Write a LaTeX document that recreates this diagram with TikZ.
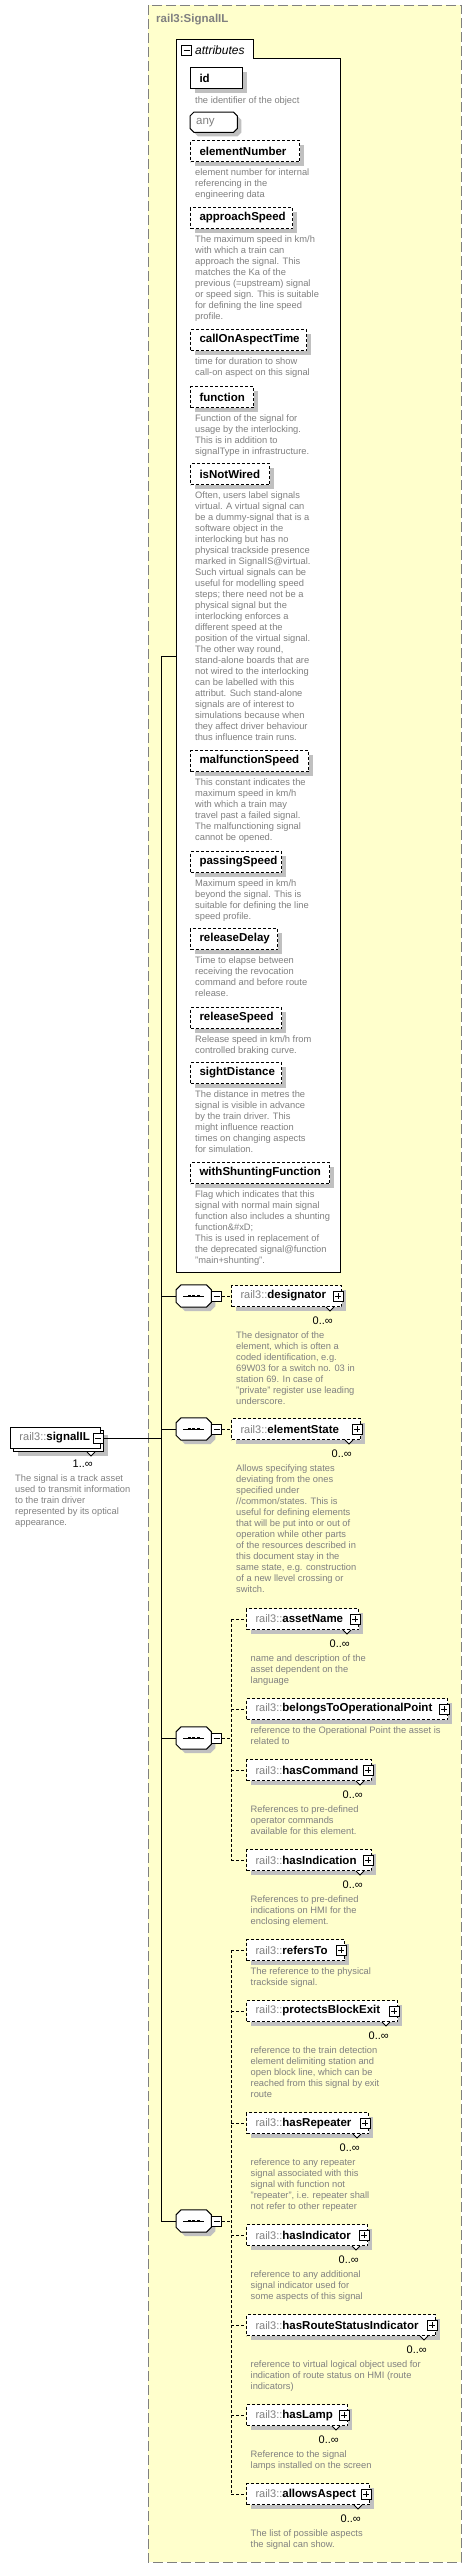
\documentclass[tikz,border=0pt]{standalone}
\usepackage{fontspec}
\setmainfont{Liberation Sans}
\usetikzlibrary{shadows,positioning}
\definecolor{cmplx}{RGB}{255,255,204}
\definecolor{txtgray}{RGB}{128,128,128}
\definecolor{shadowgray}{RGB}{192,192,192}
\newcommand{\attrname}[2]{\makebox[#1pt][l]{\hspace{9pt}#2}}
\newcommand{\elname}[2]{\makebox[#1pt][l]{\hspace{9pt}{\mdseries\color{txtgray}\fontsize{11}{13}\selectfont rail3::}#2}}
\tikzset{
  outer/.style={draw=txtgray, dash pattern=on 10pt off 4pt, fill=cmplx, line width=1pt},
  boxshadow/.style={drop shadow={shadow xshift=4pt, shadow yshift=-4pt, fill=shadowgray, opacity=1}},
  title/.style={inner sep=0, text=txtgray, font=\fontsize{11.5}{13}\selectfont\bfseries},
  opt/.style={dash pattern=on 3pt off 2pt},
  attr/.style={draw, fill=white, line width=1pt, inner sep=0, minimum height=21pt, anchor=north west,
    font=\fontsize{11.5}{13}\selectfont\bfseries, boxshadow},
  elem/.style={attr, opt, anchor=west},
  anybox/.style={inner sep=0, minimum height=20pt, anchor=north west, font=\fontsize{11.5}{13}\selectfont},
  seq/.style={inner sep=0, minimum width=35pt, minimum height=22pt, anchor=west},
  octo/.style={draw, fill=white, line width=1pt, boxshadow},
  minusbox/.style={draw, fill=white, line width=0.8pt, minimum width=10pt, minimum height=10pt, inner sep=0,
    path picture={\draw ([xshift=2pt]path picture bounding box.west) -- ([xshift=-2pt]path picture bounding box.east);}},
  plusbox/.style={minusbox,
    path picture={\draw ([xshift=2pt]path picture bounding box.west) -- ([xshift=-2pt]path picture bounding box.east)
      ([yshift=-2pt]path picture bounding box.north) -- ([yshift=2pt]path picture bounding box.south);}},
  sigbox/.style={draw, fill=white, line width=1pt, inner sep=0, minimum width=90pt, minimum height=21pt, anchor=north west},
  desc/.style={inner sep=0, align=left, text=txtgray, font=\fontsize{9.33}{11}\selectfont, execute at begin node=\strut},
  card/.style={inner sep=0, anchor=east, font=\fontsize{11}{13}\selectfont},
  notch/.style={fill=white, line width=0.8pt},
  wire/.style={line width=1pt},
  link/.style={line width=1pt, opt},
}
\begin{document}
\begin{tikzpicture}[x=1pt,y=-1pt]
\useasboundingbox (0,0) rectangle (471,2567);
% complex type frame
\draw[outer] (148,5) rectangle (461,2562);
\node[title, anchor=west] (ctype) at (156,20) {rail3:SignalIL};

% attributes
\draw[fill=white, line width=1pt] (176,39) -- (253,39) -- (253,58) -- (340,58) -- (340,1272) -- (176,1272) -- cycle;
\node[minusbox] (attrM) at (186.5,50) {};
\node[anchor=west, inner sep=0, font=\fontsize{12}{14}\selectfont\itshape] (attrT) at (195,50) {attributes};
\coordinate (attrL) at (176,656);

\node[attr] (id) at (190,67) {\attrname{52}{id}};
\node[desc, below right=6.2pt and 5pt of id.south west] (idD) {the identifier of the object};
\node[anybox] (any) at (190,112) {\attrname{47}{\color{txtgray}\hspace{-3pt}any}};
\draw[octo] ([xshift=4pt]any.north west) -- ([xshift=-4pt]any.north east) -- ([yshift=-4pt]any.north east)
  -- ([yshift=4pt]any.south east) -- ([xshift=-4pt]any.south east) -- ([xshift=4pt]any.south west)
  -- ([yshift=4pt]any.south west) -- ([yshift=-4pt]any.north west) -- cycle;
\node[anybox] at (any.north west) {\attrname{47}{\color{txtgray}\hspace{-3pt}any}};
\node[attr,opt] (elementNumber) at (190,140) {\attrname{109}{elementNumber}};
\node[desc, below right=6.2pt and 5pt of elementNumber.south west] (elementNumberD) {element number for internal\\referencing in the\\engineering data};
\node[attr,opt] (approachSpeed) at (190,207) {\attrname{102}{approachSpeed}};
\node[desc, below right=6.2pt and 5pt of approachSpeed.south west] (approachSpeedD) {The maximum speed in km/h\\with which a train can\\approach the signal. This\\matches the Ka of the\\previous (=upstream) signal\\or speed sign. This is suitable\\for defining the line speed\\profile.};
\node[attr,opt] (callOnAspectTime) at (190,329) {\attrname{116}{callOnAspectTime}};
\node[desc, below right=6.2pt and 5pt of callOnAspectTime.south west] (callOnAspectTimeD) {time for duration to show\\call-on aspect on this signal};
\node[attr,opt] (function) at (190,386) {\attrname{63}{function}};
\node[desc, below right=6.2pt and 5pt of function.south west] (functionD) {Function of the signal for\\usage by the interlocking.\\This is in addition to\\signalType in infrastructure.};
\node[attr,opt] (isNotWired) at (190,463) {\attrname{79}{isNotWired}};
\node[desc, below right=6.2pt and 5pt of isNotWired.south west] (isNotWiredD) {Often, users label signals\\virtual. A virtual signal can\\be a dummy-signal that is a\\software object in the\\interlocking but has no\\physical trackside presence\\marked in SignalIS@virtual.\\Such virtual signals can be\\useful for modelling speed\\steps; there need not be a\\physical signal but the\\interlocking enforces a\\different speed at the\\position of the virtual signal.\\The other way round,\\stand-alone boards that are\\not wired to the interlocking\\can be labelled with this\\attribut. Such stand-alone\\signals are of interest to\\simulations because when\\they affect driver behaviour\\thus influence train runs.};
\node[attr,opt] (malfunctionSpeed) at (190,750) {\attrname{118}{malfunctionSpeed}};
\node[desc, below right=6.2pt and 5pt of malfunctionSpeed.south west] (malfunctionSpeedD) {This constant indicates the\\maximum speed in km/h\\with which a train may\\travel past a failed signal.\\The malfunctioning signal\\cannot be opened.};
\node[attr,opt] (passingSpeed) at (190,851) {\attrname{91}{passingSpeed}};
\node[desc, below right=6.2pt and 5pt of passingSpeed.south west] (passingSpeedD) {Maximum speed in km/h\\beyond the signal. This is\\suitable for defining the line\\speed profile.};
\node[attr,opt] (releaseDelay) at (190,928) {\attrname{87}{releaseDelay}};
\node[desc, below right=6.2pt and 5pt of releaseDelay.south west] (releaseDelayD) {Time to elapse between\\receiving the revocation\\command and before route\\release.};
\node[attr,opt] (releaseSpeed) at (190,1007) {\attrname{91}{releaseSpeed}};
\node[desc, below right=6.2pt and 5pt of releaseSpeed.south west] (releaseSpeedD) {Release speed in km/h from\\controlled braking curve.};
\node[attr,opt] (sightDistance) at (190,1062) {\attrname{91}{sightDistance}};
\node[desc, below right=6.2pt and 5pt of sightDistance.south west] (sightDistanceD) {The distance in metres the\\signal is visible in advance\\by the train driver. This\\might influence reaction\\times on changing aspects\\for simulation.};
\node[attr,opt] (withShuntingFunction) at (190,1162) {\attrname{139}{withShuntingFunction}};
\node[desc, below right=6.2pt and 5pt of withShuntingFunction.south west] (withShuntingFunctionD) {Flag which indicates that this\\signal with normal main signal\\function also includes a shunting\\function\&\#xD;\\This is used in replacement of\\the deprecated signal@function\\"main+shunting".};

% compositors
\node[seq] (seqA) at (176,1296) {};
\node[seq] (seqB) at (176,1429) {};
\node[seq] (seqC) at (176,1738) {};
\node[seq] (seqD) at (176,2221) {};
\foreach \s in {seqA,seqB,seqC,seqD} {
  \draw[octo] ([xshift=5pt]\s.north west) -- ([xshift=-5pt]\s.north east) -- ([yshift=-5pt]\s.north east)
    -- ([yshift=5pt]\s.south east) -- ([xshift=-5pt]\s.south east) -- ([xshift=5pt]\s.south west)
    -- ([yshift=5pt]\s.south west) -- ([yshift=-5pt]\s.north west) -- cycle;
  \draw ([xshift=-10.5pt]\s.center) -- ([xshift=10.5pt]\s.center);
  \foreach \dx in {-4.5,0,4.5}
    \fill ([xshift=\dx pt]\s.center) +(-1.4pt,-1.4pt) rectangle +(1.4pt,1.4pt);
  \node[minusbox, anchor=west] (\s m) at (\s.east) {};
}

% child elements
\node[elem] (designator) at (231,1296) {\elname{110}{designator}};
\node[desc, below right=24.2pt and 5pt of designator.south west] (designatorD) {The designator of the\\element, which is often a\\coded identification, e.g.\\69W03 for a switch no. 03 in\\station 69. In case of\\"private" register use leading\\underscore.};
\node[elem] (elementState) at (231,1429) {\elname{129}{elementState}};
\node[desc, below right=24.2pt and 5pt of elementState.south west] (elementStateD) {Allows specifying states\\deviating from the ones\\specified under\\//common/states. This is\\useful for defining elements\\that will be put into or out of\\operation while other parts\\of the resources described in\\this document stay in the\\same state, e.g. construction\\of a new llevel crossing or\\switch.};
\node[elem] (assetName) at (246,1619) {\elname{112}{assetName}};
\node[desc, below right=24.2pt and 4.5pt of assetName.south west] (assetNameD) {name and description of the\\asset dependent on the\\language};
\node[elem] (belongsToOperationalPoint) at (246,1709) {\elname{201}{belongsToOperationalPoint}};
\node[desc, below right=6.2pt and 4.5pt of belongsToOperationalPoint.south west] (belongsToOperationalPointD) {reference to the Operational Point the asset is\\related to};
\node[elem] (hasCommand) at (246,1770) {\elname{125}{hasCommand}};
\node[desc, below right=24.2pt and 4.5pt of hasCommand.south west] (hasCommandD) {References to pre-defined\\operator commands\\available for this element.};
\node[elem] (hasIndication) at (246,1860) {\elname{125}{hasIndication}};
\node[desc, below right=24.2pt and 4.5pt of hasIndication.south west] (hasIndicationD) {References to pre-defined\\indications on HMI for the\\enclosing element.};
\node[elem] (refersTo) at (246,1950) {\elname{98}{refersTo}};
\node[desc, below right=6.2pt and 4.5pt of refersTo.south west] (refersToD) {The reference to the physical\\trackside signal.};
\node[elem] (protectsBlockExit) at (246,2011) {\elname{151}{protectsBlockExit}};
\node[desc, below right=24.2pt and 4.5pt of protectsBlockExit.south west] (protectsBlockExitD) {reference to the train detection\\element delimiting station and\\open block line, which can be\\reached from this signal by exit\\route};
\node[elem] (hasRepeater) at (246,2123) {\elname{122}{hasRepeater}};
\node[desc, below right=24.2pt and 4.5pt of hasRepeater.south west] (hasRepeaterD) {reference to any repeater\\signal associated with this\\signal with function not\\"repeater", i.e. repeater shall\\not refer to other repeater};
\node[elem] (hasIndicator) at (246,2235) {\elname{121}{hasIndicator}};
\node[desc, below right=24.2pt and 4.5pt of hasIndicator.south west] (hasIndicatorD) {reference to any additional\\signal indicator used for\\some aspects of this signal};
\node[elem] (hasRouteStatusIndicator) at (246,2325) {\elname{189}{hasRouteStatusIndicator}};
\node[desc, below right=24.2pt and 4.5pt of hasRouteStatusIndicator.south west] (hasRouteStatusIndicatorD) {reference to virtual logical object used for\\indication of route status on HMI (route\\indicators)};
\node[elem] (hasLamp) at (246,2415) {\elname{101}{hasLamp}};
\node[desc, below right=24.2pt and 4.5pt of hasLamp.south west] (hasLampD) {Reference to the signal\\lamps installed on the screen};
\node[elem] (allowsAspect) at (246,2494) {\elname{123}{allowsAspect}};
\node[desc, below right=24.2pt and 4.5pt of allowsAspect.south west] (allowsAspectD) {The list of possible aspects\\the signal can show.};

\foreach \e in {designator,elementState,assetName,belongsToOperationalPoint,hasCommand,hasIndication,refersTo,
    protectsBlockExit,hasRepeater,hasIndicator,hasRouteStatusIndicator,hasLamp,allowsAspect}
  \node[plusbox] (\e-plus) at ([xshift=-4pt]\e.east) {};
\foreach \e in {designator,elementState,assetName,hasCommand,hasIndication,
    protectsBlockExit,hasRepeater,hasIndicator,hasRouteStatusIndicator,hasLamp,allowsAspect} {
  \draw[notch] ([xshift=-16pt]\e.south east) -- ++(4,4) -- ++(4,-4);
  \node[card] (\e-card) at ([xshift=-9pt,yshift=-13.5pt]\e.south east) {0..∞};
}

% root element
\node[sigbox, boxshadow] (signalILback) at (13,1430) {};
\node[sigbox, font=\fontsize{11.5}{13}\selectfont\bfseries] (signalIL) at (10,1427) {\elname{90}{signalIL}};
\node[minusbox] (signalILm) at (98,1438) {};
\draw[notch] ([xshift=-14pt,yshift=-3pt]signalIL.south east) -- ++(4,4) -- ++(4,-4);
\node[card] (signalIL-card) at ([xshift=-8pt,yshift=-15pt]signalIL.south east) {1..∞};
\node[desc, below right=25.7pt and 5pt of signalIL.south west] (signalILD) {The signal is a track asset\\used to transmit information\\to the train driver\\represented by its optical\\appearance.};

% connectors
\coordinate (trunk) at (161,656);
\draw[wire] (trunk) -- (attrL);
\draw[wire] (trunk) -- (trunk |- seqD.west);
\foreach \s in {seqA,seqB,seqC,seqD}
  \draw[wire] (trunk |- \s.west) -- (\s.west);
\draw[wire] (signalILm.east) -- (signalILm.east -| trunk);
\draw[link] (seqAm.east) -- (designator.west);
\draw[link] (seqBm.east) -- (elementState.west);
\coordinate (seqCj) at ([xshift=9pt]seqCm.east);
\coordinate (seqDj) at ([xshift=9pt]seqDm.east);
\draw[link] (seqCm.east) -- (seqCj);
\draw[link] (seqDm.east) -- (seqDj);
\draw[link] (seqCj |- assetName.west) -- (seqCj |- hasIndication.west);
\draw[link] (seqDj |- refersTo.west) -- (seqDj |- allowsAspect.west);
\foreach \c in {assetName,belongsToOperationalPoint,hasCommand,hasIndication}
  \draw[link] (seqCj |- \c.west) -- (\c.west);
\foreach \c in {refersTo,protectsBlockExit,hasRepeater,hasIndicator,hasRouteStatusIndicator,hasLamp,allowsAspect}
  \draw[link] (seqDj |- \c.west) -- (\c.west);
\end{tikzpicture}
\end{document}
